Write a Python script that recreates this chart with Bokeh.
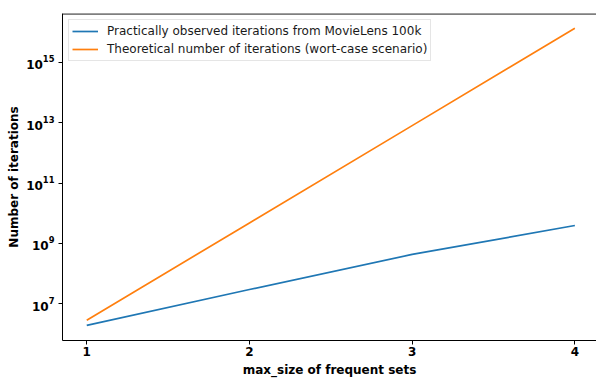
from bokeh.plotting import figure
from bokeh.models import FixedTicker, Range1d, Legend, LegendItem, Span
from bokeh.embed import file_html
from bokeh.resources import INLINE

x_sizes = [1, 2, 3, 4]
observed = [1.9e6, 2.95e7, 4.3e8, 3.9e9]
theoretical = [2.83e6, 4.76e9, 8.0e12, 1.35e16]
y_ticks = [1e7, 1e9, 1e11, 1e13, 1e15]
x_ticks = [1, 2, 3, 4]
label_observed = "Practically observed iterations from MovieLens 100k"
label_theoretical = "Theoretical number of iterations (wort-case scenario)"

FONT = "DejaVu Sans"
Y_LO, Y_HI = 10**5.78, 10**16.62

p = figure(width=596, height=379, y_axis_type="log",
           x_range=Range1d(0.851, 4.133), y_range=Range1d(Y_LO, Y_HI),
           output_backend="svg", toolbar_location=None,
           min_border_left=62, min_border_right=0, min_border_top=13, min_border_bottom=38)

p.grid.visible = False
p.outline_line_color = None
p.background_fill_color = "white"
p.border_fill_color = "white"

r1 = p.line(x_sizes, observed, line_color="#1f77b4", line_width=1.7)
r2 = p.line(x_sizes, theoretical, line_color="#ff7f0e", line_width=1.7)

p.add_layout(Span(location=10**16.605, dimension="width", line_color="black", line_width=1.3))

xa = p.below[0]
ya = p.left[0]
for ax in (xa, ya):
    ax.axis_line_color = "black"
    ax.axis_line_width = 1
    ax.major_tick_line_color = "black"
    ax.major_tick_in = 0
    ax.major_tick_out = 4
    ax.minor_tick_line_color = None
    ax.major_label_text_font = FONT
    ax.major_label_text_font_style = "bold"
    ax.major_label_text_font_size = "12px"
    ax.major_label_text_color = "black"
    ax.axis_label_text_font = FONT
    ax.axis_label_text_font_style = "bold"
    ax.axis_label_text_font_size = "12px"
    ax.axis_label_text_color = "black"

xa.ticker = FixedTicker(ticks=x_ticks)
ya.ticker = FixedTicker(ticks=y_ticks)
xa.axis_label = "max_size of frequent sets"
ya.axis_label = "Number of iterations"
xa.major_label_standoff = 2
xa.axis_label_standoff = 4
ya.major_label_standoff = 4
ya.axis_label_standoff = 2

legend = Legend(items=[LegendItem(label=label_observed, renderers=[r1]),
                       LegendItem(label=label_theoretical, renderers=[r2])],
                location="top_left")
legend.margin = 6
legend.padding = 3
legend.spacing = 2
legend.glyph_width = 26
legend.glyph_height = 16
legend.label_height = 16
legend.label_standoff = 9
legend.label_text_font = FONT
legend.label_text_font_size = "12px"
legend.label_text_color = "#1a1a1a"
legend.border_line_color = "#cccccc"
legend.border_line_width = 1
legend.background_fill_alpha = 0.8
p.add_layout(legend, "center")

open("out.html", "w").write(file_html(p, INLINE))
